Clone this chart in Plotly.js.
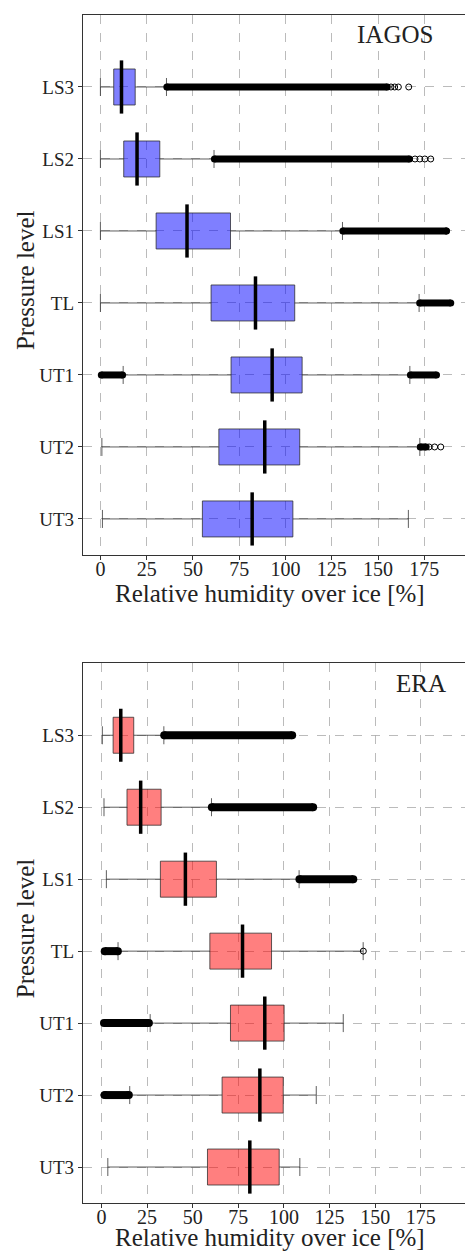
<!DOCTYPE html>
<html>
<head>
<meta charset="utf-8">
<script src="https://cdn.plot.ly/plotly-3.0.1.min.js"></script>
<style>html,body{margin:0;padding:0;background:#fff}#chart{width:465px;height:1253px}</style>
</head>
<body>
<div id="chart"></div>
<script>
// Pressure levels (bottom to top)
const levels = ['UT3','UT2','UT1','TL','LS1','LS2','LS3'];
const positions = [1,2,3,4,5,6,7];

// IAGOS box statistics
const iagosLow    = [1.1, 0.8, 12.3, 0, 0, 0, 0];
const iagosQ1     = [55.1, 64.0, 70.6, 59.8, 30.1, 12.6, 7.2];
const iagosMedian = [82.0, 88.8, 92.8, 83.8, 46.8, 19.8, 11.4];
const iagosQ3     = [104.0, 107.7, 109.0, 105.0, 70.3, 32.1, 18.8];
const iagosHigh   = [166.4, 172.6, 167.2, 172.2, 130.8, 61.4, 35.7];
// IAGOS dense outlier ranges
const iagosOutHiStart = [null, 172.8, 167.5, 172.5, 131.0, 61.6, 35.9];
const iagosOutHiEnd   = [null, 176.0, 181.6, 189.3, 187.0, 167.0, 155.0];
const iagosOutLoStart = [null, null, 0.5, null, null, null, null];
const iagosOutLoEnd   = [null, null, 12.0, null, null, null, null];
// IAGOS sparse outliers
const iagosSparseX = [177.6, 180.6, 183.9, 187.0, 170.0, 172.6, 175.3, 178.5, 157.0, 159.0, 161.0, 166.6];
const iagosSparseY = ['UT2','UT2','UT2','LS1','LS2','LS2','LS2','LS2','LS3','LS3','LS3','LS3'];

// ERA box statistics
const eraLow    = [3.5, 15.5, 26.7, 9.1, 2.7, 1.4, 0.5];
const eraQ1     = [58.1, 66.1, 70.7, 59.4, 32.3, 14.0, 6.4];
const eraMedian = [81.3, 86.8, 89.5, 77.3, 46.0, 21.5, 10.6];
const eraQ3     = [97.4, 99.6, 100.1, 93.2, 63.0, 32.7, 17.7];
const eraHigh   = [108.7, 117.7, 132.5, 143.4, 108.3, 60.3, 34.2];
// ERA dense outlier ranges
const eraOutHiStart = [null, null, null, null, 108.5, 60.5, 34.4];
const eraOutHiEnd   = [null, null, null, null, 138.0, 116.0, 104.5];
const eraOutLoStart = [null, 1.8, 1.4, 1.8, null, null, null];
const eraOutLoEnd   = [null, 15.0, 26.0, 9.0, null, null, null];
// ERA sparse outliers
const eraSparseX = [1.3, 143.5];
const eraSparseY = ['UT2','TL'];

// Texts
const panelNames = ['IAGOS', 'ERA'];
const xTitle = 'Relative humidity over ice [%]';
const yTitle = 'Pressure level';

const fontFamily = '"Liberation Serif", "DejaVu Serif", serif';
const posOf = l => positions[levels.indexOf(l)];

function panel(low,q1,med,q3,high,hiS,hiE,loS,loE,spX,spY,fill,xa,ya,bandW){
  const traces = [];
  traces.push({
    type:'box', orientation:'h', y:positions, q1:q1, median:med, q3:q3,
    lowerfence:low, upperfence:high, width:0.5, whiskerwidth:0.5,
    fillcolor:fill, line:{color:'rgba(40,40,40,0.75)', width:1},
    boxpoints:false, hoverinfo:'skip', xaxis:xa, yaxis:ya, showlegend:false
  });
  const bx=[], by=[];
  const addBands=(s,e)=>{ for(let i=0;i<positions.length;i++){ if(s[i]!==null){ bx.push(s[i],e[i],null); by.push(positions[i],positions[i],null);} } };
  addBands(hiS,hiE); addBands(loS,loE);
  traces.push({type:'scatter', mode:'lines+markers', x:bx, y:by, connectgaps:false,
    line:{color:'black', width:bandW}, marker:{color:'black', size:bandW},
    xaxis:xa, yaxis:ya, showlegend:false, hoverinfo:'skip'});
  traces.push({type:'scatter', mode:'markers', x:spX, y:spY.map(posOf),
    marker:{symbol:'circle-open', size:6, color:'black', line:{width:1, color:'black'}},
    xaxis:xa, yaxis:ya, showlegend:false, hoverinfo:'skip'});
  traces.push({type:'scatter', mode:'markers', x:med, y:positions,
    marker:{symbol:'line-ns', size:38, line:{width:3.5, color:'black'}},
    xaxis:xa, yaxis:ya, showlegend:false, hoverinfo:'skip'});
  return traces;
}

const data = [
  ...panel(iagosLow,iagosQ1,iagosMedian,iagosQ3,iagosHigh,iagosOutHiStart,iagosOutHiEnd,iagosOutLoStart,iagosOutLoEnd,iagosSparseX,iagosSparseY,'rgba(0,0,255,0.5)','x','y',7),
  ...panel(eraLow,eraQ1,eraMedian,eraQ3,eraHigh,eraOutHiStart,eraOutHiEnd,eraOutLoStart,eraOutLoEnd,eraSparseX,eraSparseY,'rgba(255,0,0,0.5)','x2','y2',8),
  // empty traces so the tick-label axes are created
  {type:'scatter', x:[], y:[], xaxis:'x3', yaxis:'y', showlegend:false, hoverinfo:'skip'},
  {type:'scatter', x:[], y:[], xaxis:'x4', yaxis:'y2', showlegend:false, hoverinfo:'skip'}
];

function xAxis(range, anchor){
  return {
    range:range, domain:[0,1], anchor:anchor,
    tick0:0, dtick:25, ticks:'outside', ticklen:4, tickcolor:'#333',
    showticklabels:false,
    showline:true, linecolor:'#333', linewidth:1.2, mirror:true,
    showgrid:true, gridcolor:'#aaaaaa', griddash:'dash', gridwidth:0.8,
    zeroline:false, automargin:false
  };
}
function xLabelAxis(range, over, pos){
  return {
    range:range, overlaying:over, anchor:'free', position:pos, side:'bottom',
    tick0:0, dtick:25, ticks:'',
    showline:false, showgrid:false, zeroline:false, automargin:false,
    tickfont:{family:fontFamily, size:20, color:'#222'}
  };
}
function yAxis(domain, anchor){
  return {
    range:[0.5,8], domain:domain, anchor:anchor,
    tickvals:positions, ticktext:levels, ticks:'outside', ticklen:4, tickcolor:'#333',
    showline:true, linecolor:'#333', linewidth:1.2, mirror:false,
    showgrid:true, gridcolor:'#aaaaaa', griddash:'dash', gridwidth:0.8,
    zeroline:false, automargin:false,
    tickfont:{family:fontFamily, size:19, color:'#222'}
  };
}

const topDomain = [0.5455, 1];
const botDomain = [0, 0.4543];
const rangeTop = [-9.4, 197];
const rangeBot = [-10.1, 199.2];

const titleFont = {family:fontFamily, size:25, color:'#222'};
const annotations = [];
[['x','y',-0.071],['x2','y2',-0.064]].forEach(([xa,ya,ty], i) => {
  annotations.push({text:panelNames[i], xref:xa+' domain', yref:ya+' domain', x:i===0?0.817:0.884, y:0.963,
    showarrow:false, xanchor:'center', yanchor:'middle', font:titleFont});
  annotations.push({text:xTitle, xref:xa+' domain', yref:ya+' domain', x:0.49, y:ty,
    showarrow:false, xanchor:'center', yanchor:'middle', font:titleFont});
  annotations.push({text:yTitle, xref:'paper', yref:ya+' domain', x:-0.152, y:0.509, textangle:-90,
    showarrow:false, xanchor:'center', yanchor:'middle', font:{family:fontFamily, size:25, color:'#222'}});
});

const layout = {
  width:465, height:1253,
  margin:{l:83, r:0, t:15, b:50},
  font:{family:fontFamily, color:'#222'},
  paper_bgcolor:'#fff', plot_bgcolor:'#fff',
  xaxis: xAxis(rangeTop, 'y'),
  yaxis: yAxis(topDomain, 'x'),
  xaxis2: xAxis(rangeBot, 'y2'),
  yaxis2: yAxis(botDomain, 'x2'),
  xaxis3: xLabelAxis(rangeTop, 'x', topDomain[0]),
  xaxis4: xLabelAxis(rangeBot, 'x2', botDomain[0]),
  annotations: annotations,
  showlegend:false
};

Plotly.newPlot('chart', data, layout, {staticPlot:true, displayModeBar:false});
</script>
</body>
</html>
